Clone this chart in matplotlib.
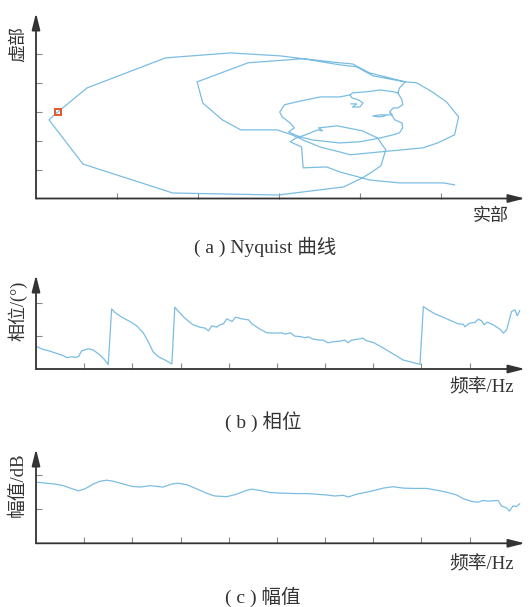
import matplotlib
matplotlib.use("agg")
import matplotlib.pyplot as plt
import numpy as np

plt.rcParams["font.family"] = ["Liberation Serif", "Noto Sans CJK SC"]

# (a) Nyquist curve, real / imaginary part (tick units, no scale printed)
nyq_re = [5.17, 5.03, 4.49, 4.12, 3.75, 3.59, 3.30, 3.28, 3.14, 3.21,
          3.33, 3.48, 3.54, 3.49, 3.72, 4.03, 4.22, 4.32, 4.26, 4.15,
          4.03, 3.80, 2.99, 1.69, 0.58, 0.16, 0.27, 0.63, 1.60, 2.40,
          3.01, 3.30, 3.75, 3.91, 4.12, 4.56, 4.70, 4.89, 5.07, 5.22,
          5.17, 4.96, 4.78, 4.25, 3.88, 3.75, 3.51, 3.35, 3.16, 2.98,
          2.53, 2.30, 2.06, 1.99, 2.62, 3.30, 3.75, 3.96, 4.16, 4.56,
          4.49, 4.47, 4.52, 4.53, 4.47, 4.41, 4.37, 4.43, 4.52, 4.53,
          4.49, 4.41, 4.25, 4.00, 3.75, 3.42, 3.26, 3.12, 3.19, 3.14,
          3.04, 3.01, 3.07, 3.22, 3.51, 3.75, 3.88, 3.91, 4.09, 4.25,
          4.41, 4.47]
nyq_im = [0.47, 0.54, 0.54, 0.64, 0.92, 1.09, 1.06, 1.78, 1.96, 2.09,
          2.20, 2.37, 2.34, 2.44, 2.51, 2.34, 2.09, 1.68, 1.13, 0.92,
          0.71, 0.40, 0.12, 0.19, 1.19, 2.72, 2.99, 3.82, 4.86, 5.03,
          4.93, 4.83, 4.69, 4.65, 4.34, 4.03, 4.00, 3.69, 3.34, 2.82,
          2.20, 1.92, 1.75, 1.61, 1.51, 1.61, 1.78, 1.96, 2.20, 2.37,
          2.37, 2.72, 3.30, 4.03, 4.69, 4.83, 4.62, 4.55, 4.24, 4.03,
          3.82, 3.65, 3.41, 3.24, 3.13, 3.13, 2.99, 2.72, 2.61, 2.44,
          2.27, 2.20, 2.09, 1.96, 1.92, 2.02, 2.13, 2.30, 2.44, 2.61,
          2.82, 2.99, 3.24, 3.34, 3.51, 3.51, 3.58, 3.65, 3.69, 3.75,
          3.69, 3.65]
# small wiggles in the middle of the inner loop
wig1_re = [3.88, 3.90, 3.98, 4.04, 4.00, 3.91, 3.96, 3.89]
wig1_im = [3.58, 3.48, 3.41, 3.30, 3.16, 3.16, 3.27, 3.27]
wig2_re = [4.37, 4.40, 4.33, 4.25, 4.16, 4.23, 4.31]
wig2_im = [2.99, 2.89, 2.89, 2.89, 2.85, 2.82, 2.85]
mark_re, mark_im = 0.27, 2.99

# (b) phase vs frequency
freq_b = [0.02, 0.15, 0.26, 0.43, 0.57, 0.65, 0.74, 0.81, 0.88, 0.95,
          1.09, 1.19, 1.33, 1.43, 1.50, 1.57, 1.64, 1.78, 1.95, 2.09,
          2.23, 2.33, 2.43, 2.54, 2.68, 2.82, 2.88, 2.99, 3.09, 3.26,
          3.40, 3.51, 3.58, 3.65, 3.75, 3.82, 3.89, 3.96, 4.03, 4.07,
          4.14, 4.27, 4.41, 4.48, 4.65, 4.79, 4.96, 5.10, 5.17, 5.28,
          5.37, 5.51, 5.58, 5.65, 5.75, 5.89, 5.96, 6.06, 6.17, 6.31,
          6.41, 6.48, 6.55, 6.69, 6.78, 6.86, 7.00, 7.14, 7.28, 7.45,
          7.62, 7.76, 7.97, 8.04, 8.14, 8.28, 8.45, 8.62, 8.76, 8.87,
          8.90, 9.00, 9.11, 9.18, 9.25, 9.30, 9.37, 9.49, 9.63, 9.70,
          9.77, 9.87, 9.94, 9.99, 10.04]
phase = [0.67, 0.59, 0.55, 0.47, 0.40, 0.34, 0.37, 0.35, 0.37, 0.55,
         0.61, 0.57, 0.42, 0.27, 0.13, 1.81, 1.70, 1.56, 1.43, 1.30,
         1.08, 0.82, 0.52, 0.37, 0.27, 0.15, 1.86, 1.68, 1.53, 1.33,
         1.26, 1.23, 1.15, 1.30, 1.26, 1.33, 1.36, 1.51, 1.46, 1.43,
         1.56, 1.51, 1.48, 1.36, 1.20, 1.09, 1.08, 1.09, 1.05, 1.09,
         0.99, 0.97, 0.94, 0.97, 0.90, 0.87, 0.87, 0.79, 0.82, 0.84,
         0.87, 0.79, 0.87, 0.90, 0.93, 0.85, 0.80, 0.69, 0.57, 0.42,
         0.27, 0.22, 0.14, 1.88, 1.78, 1.66, 1.56, 1.45, 1.36, 1.35,
         1.27, 1.38, 1.40, 1.50, 1.45, 1.33, 1.41, 1.33, 1.20, 1.08,
         1.18, 1.73, 1.78, 1.60, 1.76]

# (c) magnitude vs frequency
freq_c = [0.02, 0.22, 0.39, 0.57, 0.71, 0.88, 1.02, 1.19, 1.33, 1.47,
          1.60, 1.81, 1.99, 2.16, 2.37, 2.50, 2.64, 2.82, 2.95, 3.13,
          3.33, 3.54, 3.71, 3.96, 4.16, 4.34, 4.48, 4.65, 4.86, 5.13,
          5.41, 5.62, 5.82, 6.03, 6.20, 6.38, 6.48, 6.65, 6.93, 7.21,
          7.41, 7.62, 7.83, 8.11, 8.31, 8.52, 8.73, 8.87, 9.04, 9.18,
          9.28, 9.38, 9.49, 9.59, 9.66, 9.77, 9.83, 9.90, 9.97, 10.04]
mag = [1.78, 1.75, 1.73, 1.68, 1.61, 1.53, 1.59, 1.73, 1.81, 1.84,
       1.81, 1.73, 1.66, 1.64, 1.68, 1.66, 1.64, 1.73, 1.75, 1.71,
       1.59, 1.46, 1.38, 1.36, 1.43, 1.53, 1.58, 1.54, 1.48, 1.46,
       1.45, 1.45, 1.43, 1.41, 1.38, 1.40, 1.35, 1.43, 1.51, 1.61,
       1.65, 1.61, 1.60, 1.60, 1.55, 1.49, 1.41, 1.30, 1.22, 1.20,
       1.25, 1.23, 1.24, 1.25, 1.09, 1.03, 0.94, 1.09, 1.07, 1.15]

LINE = "#7bbde2"
AXIS = "#333333"
TEXT = "#333333"
W, H = 530, 607


def px_box(left, top, right, bottom):
    return [left / W, 1 - bottom / H, (right - left) / W, (bottom - top) / H]


def arrow_axes(ax, xticks, yticks, xmax, ymax):
    ax.set_xlim(0, xmax)
    ax.set_ylim(0, ymax)
    for s in ax.spines.values():
        s.set_visible(False)
    ax.set_xticks(xticks)
    ax.set_yticks(yticks)
    ax.tick_params(direction="in", length=4, width=0.8, color="#888888",
                   labelbottom=False, labelleft=False)
    arrow = dict(arrowstyle="-|>,head_length=1.0,head_width=0.25",
                 color=AXIS, lw=1.3, shrinkA=0, shrinkB=0, mutation_scale=10)
    ax.annotate("", xy=(1, 0), xytext=(0, 0), xycoords="axes fraction",
                arrowprops=arrow, annotation_clip=False)
    ax.annotate("", xy=(0, 1), xytext=(0, 0), xycoords="axes fraction",
                arrowprops=arrow, annotation_clip=False)


def label(x, y, s, **kw):
    fig.text(x / W, 1 - y / H, s, color=TEXT, va="center", **kw)


fig = plt.figure(figsize=(W / 100, H / 100), dpi=100)

# (a)
ax1 = fig.add_axes(px_box(36, 13, 525, 198.5))
ax1.plot(nyq_re, nyq_im, color=LINE, lw=0.9)
ax1.plot(wig1_re, wig1_im, color=LINE, lw=0.9)
ax1.plot(wig2_re, wig2_im, color=LINE, lw=0.9)
ax1.plot(mark_re, mark_im, "s", ms=5, mfc="none", mec="#e4572e", mew=1.4)
arrow_axes(ax1, np.arange(1, 6), np.arange(1, 6), 6.04, 6.41)

# (b)
ax2 = fig.add_axes(px_box(36, 275, 525, 369))
ax2.plot(freq_b, phase, color=LINE, lw=0.9)
arrow_axes(ax2, np.arange(1, 10), [1, 2], 10.15, 2.83)

# (c)
ax3 = fig.add_axes(px_box(36, 449, 525, 543.3))
ax3.plot(freq_c, mag, color=LINE, lw=0.9)
arrow_axes(ax3, np.arange(1, 10), [1, 2], 10.15, 2.75)

label(18, 44, "虚部", rotation=90, ha="center", fontsize=13)
label(509, 216, "实部", ha="right", fontsize=13)
label(265, 247, "( a ) Nyquist 曲线", ha="center", fontsize=14)

label(18, 311, "相位/(°)", rotation=90, ha="center", fontsize=13)
label(514, 388, "频率/Hz", ha="right", fontsize=13.5)
label(263, 422, "( b ) 相位", ha="center", fontsize=14)

label(18, 485, "幅值/dB", rotation=90, ha="center", fontsize=13.5)
label(514, 565, "频率/Hz", ha="right", fontsize=13.5)
label(263, 597, "( c ) 幅值", ha="center", fontsize=14)

fig.savefig("out.png", dpi=100)
plt.close(fig)
